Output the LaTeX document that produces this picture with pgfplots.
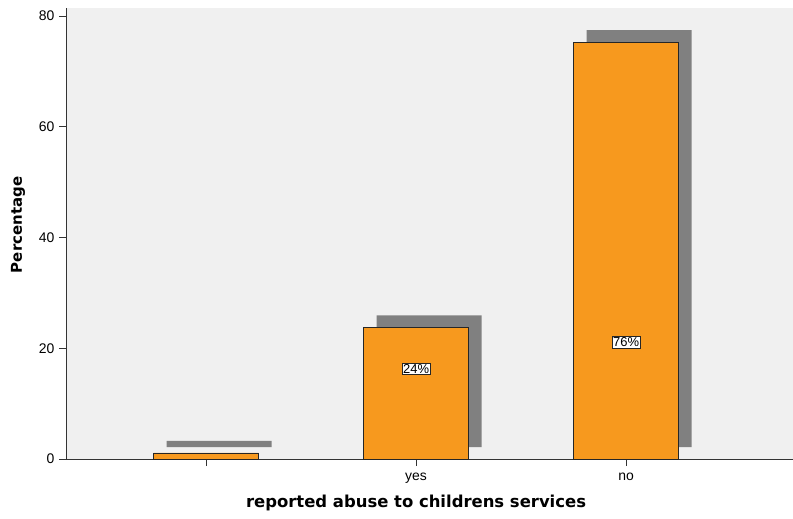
\documentclass[border=0pt]{standalone}
\usepackage{fontspec}
\setmainfont{Liberation Sans}
\newfontfamily\titlefont{DejaVu Sans}
\usepackage{pgfplots}
\pgfplotsset{compat=1.18}
\definecolor{barorange}{HTML}{F7991E}
\definecolor{shadowgray}{HTML}{808080}
\definecolor{plotbg}{HTML}{F0F0F0}
\begin{document}
\begin{tikzpicture}
\begin{axis}[
  scale only axis,
  width=727bp, height=451bp,
  xmin=-0.667, xmax=2.795,
  ymin=0, ymax=81.48,
  axis background/.style={fill=plotbg},
  axis x line*=bottom, axis y line*=left,
  axis line style={draw=black!80, line width=0.8bp},
  xtick={0,1,2}, xticklabels={,yes,no},
  ytick={0,20,40,60,80},
  tick style={draw=black!80, line width=0.8bp},
  major tick length=7bp,
  tick align=outside,
  xtick pos=bottom, ytick pos=left,
  tick label style={font=\fontsize{14}{16}\selectfont, text=black},
  /pgf/number format/assume math mode=true,
  xticklabel style={yshift=-3bp},
  yticklabel style={xshift=-1bp},
  clip=false,
]
% drop shadows behind the bars
\addplot[ybar, bar width=105bp, bar shift=0bp, fill=shadowgray, draw=none,
  xshift=13bp, yshift=12bp]
  coordinates {(0,1.1) (1,23.8) (2,75.3)};
% bars
\addplot[ybar, bar width=105bp, bar shift=0bp, fill=barorange, draw=black!85, line width=0.8bp]
  coordinates {(0,1.1) (1,23.8) (2,75.3)};
% percentage labels
\node[draw=black!85, fill=white, inner sep=1.3bp, font=\fontsize{13}{15}\selectfont] at (axis cs:1,16.3) {24\%};
\node[draw=black!85, fill=white, inner sep=1.3bp, font=\fontsize{13}{15}\selectfont] at (axis cs:2,21.1) {76\%};
% axis titles
\node[font=\titlefont\bfseries\fontsize{16.5}{18}\selectfont] at ([yshift=-44bp]axis cs:1,0) {reported abuse to childrens services};
\node[rotate=90, font=\titlefont\bfseries\fontsize{15}{17}\selectfont] at ([xshift=-48bp]rel axis cs:0,0.519) {Percentage};
\coordinate (sw) at (rel axis cs:0,0);
\coordinate (ne) at (rel axis cs:1,1);
\end{axis}
\pgfresetboundingbox
\path[use as bounding box] ([xshift=-66bp,yshift=-60bp]sw) rectangle ([yshift=8bp]ne);
\end{tikzpicture}
\end{document}
